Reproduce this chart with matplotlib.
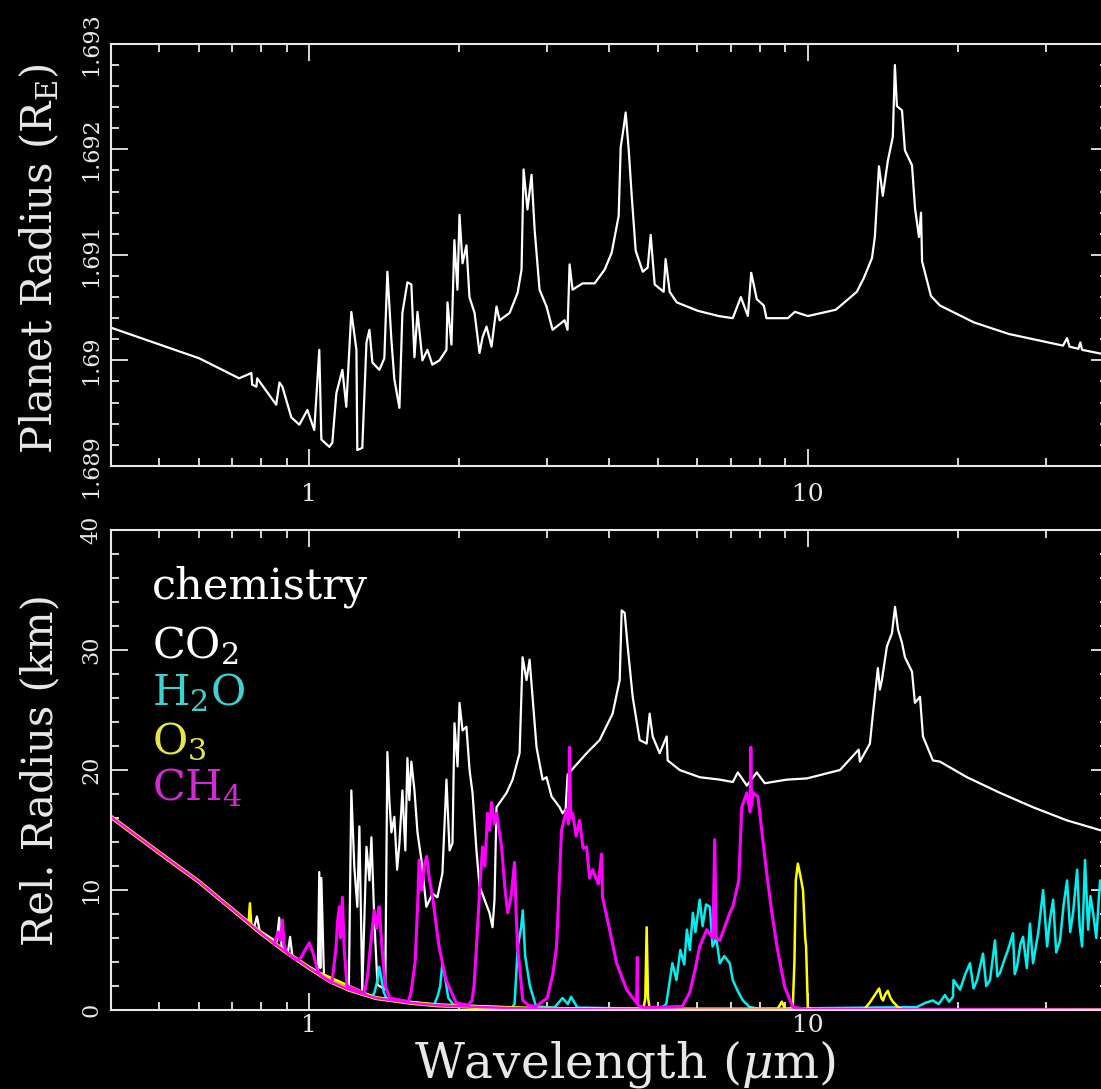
import numpy as np
import matplotlib
matplotlib.use('Agg')
import matplotlib.pyplot as plt
from matplotlib.ticker import FixedLocator, MultipleLocator, NullFormatter, LogLocator

# full atmosphere: planet radius (Earth radii) vs wavelength (micron)
total_wl = [0.40, 0.601, 0.723, 0.765, 0.768, 0.783, 0.786, 0.858, 0.871, 0.883,
            0.920, 0.955, 0.991, 1.023, 1.047, 1.057, 1.097, 1.112, 1.133, 1.165,
            1.186, 1.214, 1.243, 1.248, 1.277, 1.302, 1.320, 1.338, 1.382, 1.414,
            1.434, 1.461, 1.481, 1.516, 1.537, 1.573, 1.602, 1.625, 1.648, 1.686,
            1.725, 1.765, 1.824, 1.884, 1.893, 1.928, 1.954, 1.982, 2.001, 2.029,
            2.066, 2.095, 2.145, 2.195, 2.226, 2.267, 2.320, 2.374, 2.408, 2.522,
            2.617, 2.665, 2.690, 2.739, 2.791, 2.831, 2.896, 2.991, 3.076, 3.251,
            3.296, 3.327, 3.373, 3.533, 3.735, 3.912, 4.041, 4.174, 4.213, 4.272,
            4.311, 4.373, 4.433, 4.515, 4.665, 4.773, 4.839, 4.929, 5.138, 5.184,
            5.283, 5.457, 6.013, 6.628, 7.07, 7.34, 7.58, 7.70, 7.90, 8.16,
            8.26, 9.12, 9.42, 10.0, 11.38, 12.54, 12.95, 13.45, 13.63, 13.89,
            14.14, 14.47, 14.81, 14.95, 15.09, 15.45, 15.66, 16.18, 16.41, 16.71,
            16.87, 16.95, 17.66, 18.41, 21.54, 25.32, 29.65, 32.5, 33.12, 33.5,
            34.9, 35.2, 35.5, 40.0]
total_r = [1.69031, 1.69002, 1.68983, 1.68988, 1.68977, 1.68975, 1.68983, 1.68958, 1.68979, 1.68975,
           1.68946, 1.68939, 1.68953, 1.68934, 1.69010, 1.68925, 1.68918, 1.68922, 1.68969, 1.68991,
           1.68956, 1.69046, 1.69010, 1.68915, 1.68917, 1.69017, 1.69029, 1.68998, 1.68991, 1.69002,
           1.69084, 1.69019, 1.68982, 1.68955, 1.69045, 1.69074, 1.69072, 1.69003, 1.69046, 1.69000,
           1.69010, 1.68996, 1.69000, 1.69010, 1.69055, 1.69015, 1.69114, 1.69067, 1.69138, 1.69092,
           1.69109, 1.69060, 1.69045, 1.69007, 1.69022, 1.69032, 1.69013, 1.69051, 1.69038, 1.69045,
           1.69064, 1.69086, 1.69181, 1.69143, 1.69176, 1.69124, 1.69067, 1.69051, 1.69029, 1.69038,
           1.69029, 1.69091, 1.69067, 1.69073, 1.69073, 1.69086, 1.69102, 1.69137, 1.69202, 1.69221,
           1.69235, 1.69199, 1.69156, 1.69104, 1.69084, 1.69088, 1.69119, 1.69072, 1.69065, 1.69096,
           1.69065, 1.69055, 1.69047, 1.69042, 1.69040, 1.69060, 1.69042, 1.69083, 1.69058, 1.69052,
           1.69040, 1.69040, 1.69046, 1.69042, 1.69048, 1.69065, 1.69078, 1.69097, 1.69117, 1.69184,
           1.69156, 1.69189, 1.69212, 1.69280, 1.69241, 1.69237, 1.69199, 1.69185, 1.69144, 1.69117,
           1.69140, 1.69094, 1.69061, 1.69052, 1.69036, 1.69025, 1.69018, 1.69014, 1.69021, 1.69013,
           1.69011, 1.69017, 1.69010, 1.69005]

# Rayleigh scattering part shared by all species (km)
rayleigh_wl = [0.4, 0.5, 0.6, 0.7, 0.8, 0.9, 1.0, 1.1, 1.2, 1.36, 1.6, 1.8, 2.2, 2.6, 3.0, 4.0, 6.0, 40.0]
rayleigh_km = [16.1, 13.1, 10.7, 8.4, 6.4, 4.8, 3.5, 2.4, 1.7, 1.0, 0.6, 0.4, 0.25, 0.15, 0.1, 0.05, 0.02, 0.0]

co2_wl = [0.70, 0.775, 0.785, 0.795, 0.86, 0.87, 0.88, 0.905, 0.915, 0.925,
          1.04, 1.047, 1.052, 1.057, 1.07, 1.2, 1.214, 1.231, 1.248, 1.26,
          1.277, 1.302, 1.32, 1.332, 1.35, 1.37, 1.42, 1.434, 1.447, 1.461,
          1.481, 1.50, 1.516, 1.537, 1.558, 1.573, 1.587, 1.602, 1.625, 1.648,
          1.678, 1.717, 1.766, 1.807, 1.849, 1.884, 1.911, 1.937, 1.955, 1.983,
          2.001, 2.029, 2.066, 2.096, 2.125, 2.164, 2.195, 2.246, 2.298, 2.331,
          2.352, 2.374, 2.487, 2.557, 2.641, 2.678, 2.727, 2.766, 2.804, 2.856,
          2.937, 2.991, 3.061, 3.177, 3.221, 3.266, 3.297, 3.358, 3.599, 3.823,
          4.059, 4.194, 4.232, 4.291, 4.351, 4.453, 4.599, 4.750, 4.816, 4.884,
          5.044, 5.210, 5.234, 5.534, 6.069, 6.660, 7.071, 7.237, 7.406, 7.544,
          7.899, 8.197, 9.074, 9.954, 11.6, 12.65, 12.72, 13.32, 13.51, 13.82,
          13.95, 14.08, 14.41, 14.75, 14.96, 15.17, 15.45, 15.66, 16.18, 16.40,
          16.79, 17.02, 17.82, 18.41, 20.86, 24.29, 28.30, 33.12, 40.0]
co2_km = [8.4, 6.9, 7.8, 6.6, 5.7, 7.7, 5.3, 4.7, 6.1, 4.4,
          3.2, 11.5, 3.5, 11.0, 2.7, 1.7, 18.3, 11.9, 8.6, 15.3,
          1.7, 13.6, 10.8, 14.4, 7.5, 2.1, 1.7, 21.5, 17.5, 14.8,
          16.1, 11.7, 13.9, 18.3, 13.3, 21.0, 17.5, 20.7, 18.3, 14.8,
          12.5, 8.6, 9.7, 9.4, 11.4, 19.2, 13.3, 13.9, 23.9, 20.3,
          25.6, 23.3, 23.6, 20.0, 18.1, 13.3, 10.3, 9.2, 8.1, 6.9,
          9.2, 16.9, 18.1, 19.2, 21.4, 29.4, 27.5, 29.2, 26.1, 21.9,
          19.2, 19.4, 17.8, 16.9, 16.4, 16.7, 19.6, 20.0, 21.4, 22.5,
          24.7, 27.5, 33.3, 33.1, 30.3, 26.1, 22.5, 22.2, 24.7, 22.8,
          21.4, 22.8, 20.8, 20.0, 19.4, 19.2, 19.0, 19.8, 19.2, 18.7,
          19.8, 18.9, 19.2, 19.3, 20.0, 21.7, 20.7, 22.2, 24.7, 28.5,
          26.7, 27.5, 30.3, 31.4, 33.6, 31.7, 30.6, 29.4, 28.2, 25.6,
          26.1, 22.8, 20.8, 20.7, 19.4, 18.1, 16.9, 15.8, 14.8]

h2o_wl = [1.33, 1.35, 1.37, 1.38, 1.39, 1.41, 1.43,
          1.78, 1.81, 1.83, 1.849, 1.87, 1.90, 1.95,
          2.55, 2.58, 2.62, 2.66, 2.68, 2.71, 2.77, 2.85,
          3.1, 3.22, 3.3, 3.35, 3.45,
          5.05, 5.2, 5.35, 5.45, 5.55, 5.65, 5.72, 5.8, 5.88, 5.95,
          6.07, 6.15, 6.25, 6.36, 6.44, 6.55, 6.66, 6.8, 6.97, 7.07,
          7.25, 7.41, 7.64, 8.0,
          16.55, 17.2, 17.82, 18.3, 18.84, 19.2, 19.55, 19.6, 20.2, 20.7,
          21.15, 21.5, 21.85, 22.46, 22.8, 23.2, 23.74, 24.0, 24.29, 24.8,
          25.2, 25.8, 26.0, 26.28, 26.7, 27.02, 27.5, 27.9, 28.3, 29.0,
          29.65, 30.2, 30.6, 31.05, 31.5, 32.06, 32.6, 33.12, 33.6, 34.05,
          34.7, 35.1, 35.5, 35.98, 36.5, 36.9, 37.35, 37.9, 38.57, 39.3,
          40.0]
h2o_km = [1.1, 1.4, 2.5, 3.6, 3.0, 1.5, 0.9,
          0.45, 1.2, 2.0, 3.9, 2.8, 1.0, 0.4,
          0.2, 0.5, 5.3, 6.9, 8.3, 4.5, 2.0, 0.3,
          0.2, 1.0, 0.5, 1.1, 0.2,
          0.1, 0.5, 3.9, 2.5, 5.0, 3.8, 6.7, 5.0, 8.1, 6.5,
          9.2, 7.0, 8.8, 8.6, 5.3, 6.0, 3.9, 4.5, 3.9, 2.5,
          1.5, 0.8, 0.25, 0.1,
          0.25, 0.6, 0.8, 0.5, 1.25, 0.7, 1.1, 2.5, 1.7, 3.0,
          3.9, 1.8, 2.5, 4.7, 2.0, 2.5, 5.8, 2.8, 3.1, 4.2,
          5.0, 6.4, 3.0, 3.6, 5.5, 6.1, 3.5, 7.2, 3.9, 6.5,
          10.0, 5.3, 7.5, 9.2, 4.8, 5.8, 8.8, 10.8, 6.5, 8.1,
          11.7, 7.0, 5.3, 12.5, 6.7, 9.5, 8.1, 6.0, 10.8, 9.2,
          11.7]

o3_wl = [0.74, 0.755, 0.76, 0.765, 0.78, 1.0, 1.36, 1.8, 2.6, 4.0,
         4.68, 4.72, 4.75, 4.78, 4.82,
         8.7, 8.87, 9.0, 9.2, 9.33, 9.40, 9.46, 9.55, 9.64, 9.78, 9.88, 9.92, 10.0, 10.2,
         12.8, 13.0, 13.3, 13.6, 13.9, 14.05, 14.15, 14.3, 14.47, 14.65, 14.81, 15.2, 15.5]
o3_km = [7.6, 7.2, 8.9, 7.0, 6.7, 3.5, 1.0, 0.4, 0.15, 0.05,
         0.1, 1.0, 6.9, 1.0, 0.1,
         0.1, 0.7, 0.1, 0.1, 0.3, 4.0, 10.8, 12.2, 11.4, 10.0, 6.0, 5.3, 0.2, 0.05,
         0.05, 0.1, 0.6, 1.2, 1.8, 1.0, 0.8, 1.3, 1.6, 1.0, 0.7, 0.2, 0.05]

ch4_wl = [0.85, 0.865, 0.875, 0.883, 0.89, 0.90, 0.94, 0.96, 0.98, 1.0,
          1.02, 1.04, 1.06, 1.11, 1.13, 1.14, 1.149, 1.155, 1.165, 1.175,
          1.19, 1.29, 1.31, 1.32, 1.335, 1.35, 1.365, 1.37, 1.38, 1.40,
          1.42, 1.45, 1.58, 1.60, 1.63, 1.65, 1.66, 1.68, 1.70, 1.72,
          1.74, 1.77, 1.82, 1.88, 1.97, 2.08, 2.12, 2.14, 2.164, 2.20,
          2.226, 2.25, 2.278, 2.30, 2.32, 2.35, 2.374, 2.43, 2.47, 2.50,
          2.54, 2.58, 2.60, 2.617, 2.68, 2.75, 2.85, 3.0, 3.08, 3.133,
          3.206, 3.281, 3.31, 3.327, 3.345, 3.374, 3.43, 3.485, 3.54, 3.599,
          3.65, 3.701, 3.80, 3.857, 3.874, 4.003, 4.135, 4.33, 4.535, 4.55,
          4.556, 4.57, 4.7, 5.6, 5.8, 5.95, 6.07, 6.27, 6.45, 6.505,
          6.55, 6.66, 6.973, 7.071, 7.27, 7.37, 7.544, 7.66, 7.685, 7.71,
          7.76, 7.94, 8.08, 8.27, 8.47, 8.67, 8.99, 9.33, 10.0, 40.0]
ch4_km = [5.5, 6.5, 5.8, 7.5, 5.4, 4.8, 4.2, 4.3, 5.0, 5.6,
          4.6, 3.2, 2.8, 2.3, 5.0, 7.5, 8.6, 6.0, 9.4, 5.0,
          2.0, 1.4, 3.0, 4.5, 6.5, 8.3, 6.8, 7.5, 8.6, 5.0,
          2.0, 1.0, 0.7, 1.5, 4.0, 9.0, 12.5, 10.0, 12.0, 12.8,
          11.0, 9.2, 5.3, 2.5, 0.6, 0.4, 0.8, 2.0, 5.3, 10.5,
          13.6, 12.0, 16.4, 15.0, 17.3, 15.5, 16.4, 13.6, 10.0, 8.1,
          9.5, 12.3, 8.0, 5.3, 0.8, 0.4, 0.3, 1.0, 3.0, 5.3,
          15.0, 16.7, 15.5, 21.9, 16.0, 16.4, 14.5, 15.8, 13.5, 13.6,
          11.0, 11.7, 10.5, 13.0, 9.4, 6.7, 3.9, 1.7, 0.6, 4.4,
          0.6, 0.4, 0.2, 0.3, 1.5, 3.5, 5.3, 6.7, 6.0, 14.2,
          6.0, 5.8, 8.1, 8.6, 10.8, 16.9, 18.1, 16.5, 21.9, 17.0,
          18.1, 17.8, 15.0, 11.4, 8.1, 5.3, 1.9, 0.25, 0.05, 0.0]

x_ticks = [1, 10]
x_tick_labels = ['1', '10']
top_yticks = [1.689, 1.690, 1.691, 1.692, 1.693]
top_ytick_labels = ['1.689', '1.69', '1.691', '1.692', '1.693']
bot_yticks = [0, 10, 20, 30, 40]
bot_ytick_labels = ['0', '10', '20', '30', '40']

legend_names = ['chemistry', 'CO$_2$', 'H$_2$O', 'O$_3$', 'CH$_4$']
legend_colors = ['white', 'white', '#3fd0d0', '#e6e64a', '#d42ad4']

fg = '#e8e8e8'
plt.rcParams['font.family'] = ['DejaVu Serif']
plt.rcParams['mathtext.fontset'] = 'dejavuserif'

fig = plt.figure(figsize=(11.01, 10.89), dpi=100, facecolor='black')
ax1 = fig.add_axes([0.1008, 0.5722, 0.9055, 0.3875])
ax2 = fig.add_axes([0.1008, 0.0725, 0.9055, 0.4408])

for ax in (ax1, ax2):
    ax.set_facecolor('black')
    ax.set_xscale('log')
    ax.set_xlim(0.4, 40)
    ax.xaxis.set_major_locator(FixedLocator(x_ticks))
    ax.xaxis.set_minor_locator(LogLocator(base=10, subs=np.arange(2, 10)))
    ax.xaxis.set_minor_formatter(NullFormatter())
    ax.set_xticklabels(x_tick_labels)
    ax.tick_params(which='both', direction='in', top=True, right=True,
                   colors=fg, width=1.3, labelsize=18)
    ax.tick_params(which='major', length=12)
    ax.tick_params(which='minor', length=6)
    ax.tick_params(axis='y', labelrotation=90, labelsize=16)
    for s in ax.spines.values():
        s.set_color(fg)
        s.set_linewidth(1.5)

# top panel
ax1.plot(total_wl, total_r, color='white', lw=1.6)
ax1.set_ylim(1.689, 1.693)
ax1.set_yticks(top_yticks)
ax1.set_yticklabels(top_ytick_labels, va='center')
ax1.yaxis.set_minor_locator(MultipleLocator(0.0002))
ax1.tick_params(axis='x', pad=12)
ax1.tick_params(axis='y', pad=6)
ax1.set_ylabel('Planet Radius (R$_{\\rm E}$)', color=fg, fontsize=30)
ax1.yaxis.set_label_coords(-0.05, 0.49)

# bottom panel
ax2.plot(co2_wl, co2_km, color='white', lw=1.6)
ax2.plot(h2o_wl, h2o_km, color='#00f0f0', lw=1.8)
ax2.plot(rayleigh_wl, rayleigh_km, color='#ffff00', lw=3.0)
ax2.plot(o3_wl, o3_km, color='#ffff00', lw=1.8)
ax2.plot(rayleigh_wl, rayleigh_km, color='#ff00ff', lw=1.8)
ax2.plot(ch4_wl, ch4_km, color='#ff00ff', lw=2.2)
ax2.set_ylim(0, 40)
ax2.set_yticks(bot_yticks)
ax2.set_yticklabels(bot_ytick_labels, va='center')
ax2.yaxis.set_minor_locator(MultipleLocator(2))
ax2.tick_params(axis='x', pad=3)
ax2.tick_params(axis='y', pad=6)
ax2.set_ylabel('Rel. Radius (km)', color=fg, fontsize=30)
ax2.yaxis.set_label_coords(-0.05, 0.5)
ax2.set_xlabel('Wavelength ($\\mu$m)', color=fg, fontsize=35)
ax2.xaxis.set_label_coords(0.5155, -0.058)

legend_y = [0.858, 0.733, 0.635, 0.535, 0.4375]
for name, col, yy in zip(legend_names, legend_colors, legend_y):
    ax2.text(0.041, yy, name, color=col, fontsize=31, va='baseline',
             transform=ax2.transAxes)

fig.savefig('out.png', dpi=100, facecolor='black')
